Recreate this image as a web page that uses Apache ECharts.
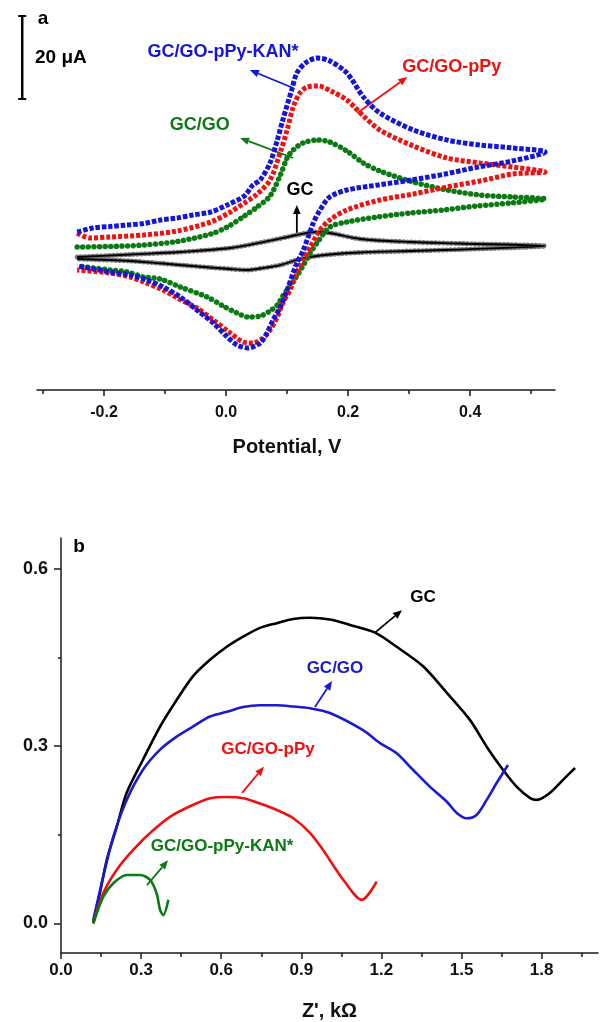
<!DOCTYPE html>
<html>
<head>
<meta charset="utf-8">
<script src="https://cdn.jsdelivr.net/npm/echarts@6.0.0/dist/echarts.min.js"></script>
<style>
  html, body { margin: 0; padding: 0; background: #fff; }
  #chart { width: 601px; height: 1022px; }
</style>
</head>
<body>
<div id="chart"></div>
<script>
// ---- panel a: cyclic voltammograms, [potential V, current uA] (forward scan then reverse) ----
const cvGC = [
  [-0.244, -7.47], [-0.157, -6.87], [-0.075, -6.27], [0.007, -5.30], [0.061, -3.86], [0.116, -2.17],
  [0.146, -1.45], [0.170, -1.69], [0.220, -3.13], [0.302, -3.86], [0.384, -4.22], [0.523, -4.82],
  [0.384, -5.66], [0.302, -6.02], [0.220, -6.39], [0.170, -6.87], [0.138, -7.47], [0.116, -8.19],
  [0.089, -9.40], [0.061, -10.12], [0.034, -10.60], [0.007, -10.36], [-0.026, -10.00], [-0.075, -9.40],
  [-0.103, -9.04], [-0.157, -8.43], [-0.244, -7.95]
];
const cvGO = [
  [-0.244, -5.06], [-0.190, -4.94], [-0.135, -4.58], [-0.080, -3.73], [-0.025, -1.93], [0.002, -0.24],
  [0.030, 2.41], [0.051, 4.58], [0.072, 7.23], [0.089, 12.29], [0.100, 16.39], [0.110, 18.31],
  [0.126, 20.00], [0.151, 20.72], [0.170, 20.24], [0.198, 18.07], [0.225, 15.18], [0.252, 13.25],
  [0.307, 10.60], [0.362, 8.67], [0.416, 7.47], [0.470, 6.99], [0.523, 6.51],
  [0.466, 5.54], [0.411, 4.82], [0.356, 3.86], [0.302, 3.13], [0.248, 2.17], [0.198, 0.96],
  [0.170, -0.24], [0.149, -4.10], [0.138, -6.51], [0.126, -9.64], [0.116, -12.05], [0.105, -14.46],
  [0.093, -16.87], [0.084, -19.04], [0.072, -20.48], [0.056, -21.69], [0.036, -21.93], [0.018, -20.96],
  [-0.005, -19.28], [-0.031, -17.11], [-0.075, -14.70], [-0.108, -12.77], [-0.135, -12.29],
  [-0.162, -11.08], [-0.190, -10.60], [-0.244, -9.64]
];
const cvPPy = [
  [-0.244, -1.69], [-0.223, -2.89], [-0.190, -2.65], [-0.135, -2.17], [-0.080, -1.20], [-0.025, 0.96],
  [0.007, 3.37], [0.030, 5.54], [0.051, 7.71], [0.072, 11.08], [0.089, 17.83], [0.100, 23.13],
  [0.110, 28.67], [0.121, 32.05], [0.133, 33.49], [0.151, 33.73], [0.175, 32.29], [0.198, 30.36],
  [0.225, 26.51], [0.252, 23.13], [0.307, 19.28], [0.362, 16.39], [0.416, 15.18], [0.470, 14.22],
  [0.523, 13.01],
  [0.470, 12.53], [0.416, 10.84], [0.362, 9.40], [0.307, 7.71], [0.252, 6.27], [0.198, 3.86],
  [0.170, 1.45], [0.154, -0.96], [0.138, -5.06], [0.126, -8.19], [0.116, -11.33], [0.105, -15.42],
  [0.093, -18.55], [0.084, -21.93], [0.072, -25.06], [0.061, -26.99], [0.044, -28.19], [0.028, -27.95],
  [0.007, -25.78], [-0.021, -22.65], [-0.048, -19.76], [-0.080, -17.35], [-0.103, -15.42],
  [-0.135, -13.49], [-0.157, -12.29], [-0.190, -11.33], [-0.244, -10.60]
];
const cvKAN = [
  [-0.244, -1.45], [-0.218, -0.48], [-0.190, -0.12], [-0.162, 0.24], [-0.135, 0.60], [-0.108, 1.45],
  [-0.080, 1.93], [-0.054, 2.65], [-0.025, 3.37], [0.002, 5.06], [0.030, 7.23], [0.044, 9.88],
  [0.056, 11.08], [0.072, 15.18], [0.084, 20.72], [0.093, 25.54], [0.108, 33.01], [0.116, 36.87],
  [0.130, 39.28], [0.149, 40.48], [0.170, 39.76], [0.198, 36.87], [0.225, 31.08], [0.252, 27.23],
  [0.307, 23.13], [0.362, 20.72], [0.416, 19.52], [0.470, 18.80], [0.523, 17.83],
  [0.469, 15.66], [0.413, 14.22], [0.359, 12.53], [0.303, 11.08], [0.249, 9.88], [0.198, 8.67],
  [0.170, 6.99], [0.154, 3.86], [0.143, 0.72], [0.126, -6.02], [0.116, -8.92], [0.100, -15.42],
  [0.089, -19.52], [0.077, -22.65], [0.067, -25.78], [0.056, -28.19], [0.036, -29.40], [0.018, -28.67],
  [0.002, -26.75], [-0.021, -23.37], [-0.048, -20.24], [-0.075, -17.11], [-0.103, -14.70],
  [-0.130, -13.01], [-0.157, -11.81], [-0.190, -11.08], [-0.244, -9.64]
];

// ---- panel b: Nyquist plots, [Z' kOhm, -Z'' kOhm] ----
const eisGC = [
  [0.121, 0.003], [0.146, 0.052], [0.171, 0.107], [0.209, 0.164], [0.246, 0.221], [0.307, 0.277],
  [0.371, 0.333], [0.433, 0.378], [0.494, 0.418], [0.558, 0.446], [0.621, 0.468], [0.682, 0.485],
  [0.745, 0.500], [0.808, 0.508], [0.869, 0.515], [0.933, 0.517], [1.007, 0.514], [1.082, 0.505],
  [1.176, 0.492], [1.257, 0.468], [1.356, 0.435], [1.445, 0.390], [1.532, 0.344], [1.594, 0.299],
  [1.655, 0.260], [1.707, 0.231], [1.757, 0.212], [1.782, 0.209], [1.831, 0.221], [1.880, 0.243],
  [1.925, 0.263]
];
const eisGO = [
  [0.121, 0.006], [0.158, 0.079], [0.196, 0.147], [0.246, 0.209], [0.307, 0.260], [0.371, 0.294],
  [0.433, 0.316], [0.494, 0.333], [0.558, 0.350], [0.621, 0.358], [0.682, 0.366], [0.745, 0.369],
  [0.808, 0.369], [0.869, 0.367], [0.933, 0.364], [1.007, 0.356], [1.131, 0.327], [1.195, 0.305],
  [1.257, 0.288], [1.318, 0.260], [1.382, 0.231], [1.445, 0.206], [1.482, 0.187], [1.519, 0.178],
  [1.557, 0.184], [1.594, 0.209], [1.632, 0.238], [1.674, 0.268]
];
const eisPPy = [
  [0.121, 0.000], [0.158, 0.051], [0.209, 0.091], [0.271, 0.125], [0.346, 0.158], [0.421, 0.184],
  [0.496, 0.201], [0.558, 0.212], [0.621, 0.214], [0.683, 0.212], [0.745, 0.203], [0.808, 0.192],
  [0.870, 0.178], [0.933, 0.153], [0.982, 0.124], [1.007, 0.107], [1.057, 0.074], [1.126, 0.040],
  [1.182, 0.071]
];
const eisKAN = [
  [0.121, 0.000], [0.158, 0.045], [0.196, 0.068], [0.246, 0.082], [0.296, 0.082], [0.333, 0.074],
  [0.358, 0.051], [0.371, 0.023], [0.383, 0.014], [0.402, 0.040]
];

// tick values
const cvLabels = [-0.2, 0, 0.2, 0.4];
const cvMinor = [-0.3, -0.1, 0.1, 0.3, 0.5];
const zLabels = [0, 0.3, 0.6, 0.9, 1.2, 1.5, 1.8];
const zMinor = [0.15, 0.45, 0.75, 1.05, 1.35, 1.65, 1.95];
const zImLabels = [0, 0.3, 0.6];
const zImMinor = [0.15, 0.45];

// annotations: [text, colour, label pos, arrow from, arrow to]
const notesA = [
  ["GC/GO-pPy-KAN*", "#1515d8", [-0.005, 41.9], [0.110, 33.25], [0.039, 37.59]],
  ["GC/GO", "#0b7a12", [-0.043, 24.3], [0.110, 16.39], [0.023, 21.20]],
  ["GC/GO-pPy", "#f01010", [0.370, 38.3], [0.215, 27.23], [0.297, 35.90]],
  ["GC", "#000", [0.121, 8.7], [0.116, -1.69], [0.116, 5.06]]
];
const notesB = [
  ["GC", "#000", [1.356, 0.552], [1.176, 0.492], [1.277, 0.530]],
  ["GC/GO", "#1a1ad0", [1.026, 0.432], [0.951, 0.366], [1.015, 0.410]],
  ["GC/GO-pPy", "#f01010", [0.775, 0.295], [0.678, 0.221], [0.760, 0.265]],
  ["GC/GO-pPy-KAN*", "#0b7a12", [0.603, 0.131], [0.322, 0.065], [0.401, 0.107]]
];
const scaleBar = { v: -0.334, from: 30.6, to: 50.6, text: "20 \u03bcA" };

const FONT = '"Liberation Sans", Arial, sans-serif';
const AX = "#1a1a1a";

const chart = echarts.init(document.getElementById("chart"), null, { renderer: "canvas" });

function labelStyle(size) {
    return { fontFamily: FONT, fontWeight: "bold", fontSize: size, color: "#111" };
}
function fmt(v) { return v.toFixed(1); }

chart.setOption({
    animation: false,
    backgroundColor: "#fff",
    grid: [
        { left: 37, right: 46, top: 40, bottom: 632 },
        { left: 61, right: 3, top: 538, bottom: 69 }
    ],
    xAxis: [
        {
            gridIndex: 0, type: "value", min: -0.3098, max: 0.539, position: "bottom",
            axisLine: { show: true, onZero: false, lineStyle: { color: AX, width: 1.5 } },
            axisTick: { show: true, customValues: cvLabels, length: 6, lineStyle: { color: AX, width: 1.5 } },
            axisLabel: Object.assign({ customValues: cvLabels, formatter: fmt, margin: 15 }, labelStyle(16)),
            splitLine: { show: false },
            name: "Potential, V", nameLocation: "middle", nameGap: 47,
            nameTextStyle: Object.assign({ padding: [0, 18, 0, 0] }, labelStyle(20))
        },
        {
            gridIndex: 0, type: "value", min: -0.3098, max: 0.539, position: "bottom", offset: 0,
            axisLine: { show: false, onZero: false },
            axisTick: { show: true, customValues: cvMinor, length: 4, lineStyle: { color: AX, width: 1.5 } },
            axisLabel: { show: false }, splitLine: { show: false }
        },
        {
            gridIndex: 1, type: "value", min: 0, max: 2.011, position: "bottom",
            axisLine: { show: true, onZero: false, lineStyle: { color: AX, width: 1.5 } },
            axisTick: { show: true, customValues: zLabels, length: 6, lineStyle: { color: AX, width: 1.5 } },
            axisLabel: Object.assign({ customValues: zLabels, formatter: fmt, margin: 9 }, labelStyle(17)),
            splitLine: { show: false },
            name: "Z', k\u03a9", nameLocation: "middle", nameGap: 48,
            nameTextStyle: labelStyle(20)
        },
        {
            gridIndex: 1, type: "value", min: 0, max: 2.011, position: "bottom", offset: 0,
            axisLine: { show: false, onZero: false },
            axisTick: { show: true, customValues: zMinor, length: 4, lineStyle: { color: AX, width: 1.5 } },
            axisLabel: { show: false }, splitLine: { show: false }
        }
    ],
    yAxis: [
        { gridIndex: 0, type: "value", min: -39.52, max: 44.82, show: false },
        {
            gridIndex: 1, type: "value", min: -0.0499, max: 0.652, position: "left",
            axisLine: { show: true, onZero: false, lineStyle: { color: AX, width: 1.5 } },
            axisTick: { show: true, customValues: zImLabels, length: 7, lineStyle: { color: AX, width: 1.5 } },
            axisLabel: Object.assign({ customValues: zImLabels, formatter: fmt, margin: 13 }, labelStyle(18)),
            splitLine: { show: false }
        },
        {
            gridIndex: 1, type: "value", min: -0.0499, max: 0.652, position: "left", offset: 0,
            axisLine: { show: false, onZero: false },
            axisTick: { show: true, customValues: zImMinor, length: 3, lineStyle: { color: AX, width: 1.5 } },
            axisLabel: { show: false }, splitLine: { show: false }
        }
    ],
    series: [
        // panel a
        { name: "GC", type: "line", xAxisIndex: 0, yAxisIndex: 0, data: cvGC, smooth: 0.3, showSymbol: false, silent: true,
          lineStyle: { color: "#7a7a7a", width: 5, type: [0.01, 4], cap: "round" } },
        { name: "GC line", type: "line", xAxisIndex: 0, yAxisIndex: 0, data: cvGC, smooth: 0.3, showSymbol: false, silent: true,
          lineStyle: { color: "#000", width: 1.8 } },
        { name: "GC/GO", type: "line", xAxisIndex: 0, yAxisIndex: 0, data: cvGO, smooth: 0.3, showSymbol: false, silent: true,
          lineStyle: { color: "#0b7a12", width: 5.5, type: [0.01, 5.6], cap: "round" } },
        { name: "GC/GO-pPy", type: "line", xAxisIndex: 0, yAxisIndex: 0, data: cvPPy, smooth: 0.3, showSymbol: false, silent: true,
          lineStyle: { color: "#f01010", width: 5, type: [4, 2], cap: "butt" } },
        { name: "GC/GO-pPy-KAN*", type: "line", xAxisIndex: 0, yAxisIndex: 0, data: cvKAN, smooth: 0.3, showSymbol: false, silent: true,
          lineStyle: { color: "#1515d8", width: 5, type: [4.5, 1.8], cap: "butt" } },
        // panel b
        { name: "GC b", type: "line", xAxisIndex: 2, yAxisIndex: 1, data: eisGC, smooth: 0.3, showSymbol: false, silent: true,
          lineStyle: { color: "#000", width: 2.6 } },
        { name: "GC/GO b", type: "line", xAxisIndex: 2, yAxisIndex: 1, data: eisGO, smooth: 0.3, showSymbol: false, silent: true,
          lineStyle: { color: "#1a1ad0", width: 2.6 } },
        { name: "GC/GO-pPy b", type: "line", xAxisIndex: 2, yAxisIndex: 1, data: eisPPy, smooth: 0.3, showSymbol: false, silent: true,
          lineStyle: { color: "#f01010", width: 2.6 } },
        { name: "GC/GO-pPy-KAN* b", type: "line", xAxisIndex: 2, yAxisIndex: 1, data: eisKAN, smooth: 0.3, showSymbol: false, silent: true,
          lineStyle: { color: "#0b7a12", width: 2.6 } }
    ]
});

// annotations placed through the axes' own scales
function toPx(grid, p) {
    const f = grid === 0 ? { xAxisIndex: 0, yAxisIndex: 0 } : { xAxisIndex: 2, yAxisIndex: 1 };
    return chart.convertToPixel(f, p);
}

function arrow(a, b, color, width, head) {
    const dx = b[0] - a[0], dy = b[1] - a[1];
    const len = Math.sqrt(dx * dx + dy * dy);
    const ux = dx / len, uy = dy / len;
    const bx = b[0] - ux * head, by = b[1] - uy * head;
    const hw = head * 0.42;
    return [
        { type: "line", silent: true, shape: { x1: a[0], y1: a[1], x2: bx, y2: by }, style: { stroke: color, lineWidth: width } },
        { type: "polygon", silent: true, shape: { points: [[b[0], b[1]], [bx - uy * hw, by + ux * hw], [bx + uy * hw, by - ux * hw]] }, style: { fill: color } }
    ];
}

function text(str, pos, color, size, align) {
    return { type: "text", silent: true, x: pos[0], y: pos[1],
             style: { text: str, fill: color, font: "bold " + size + "px " + FONT, align: align || "center", verticalAlign: "middle" } };
}

const graphics = [];
notesA.forEach(function (n) {
    graphics.push(text(n[0], toPx(0, n[2]), n[1], 18));
    arrow(toPx(0, n[3]), toPx(0, n[4]), n[1], 1.8, 9).forEach(g => graphics.push(g));
});
notesB.forEach(function (n) {
    graphics.push(text(n[0], toPx(1, n[2]), n[1], 17));
    arrow(toPx(1, n[3]), toPx(1, n[4]), n[1], 1.8, 9).forEach(g => graphics.push(g));
});

// 20 uA scale bar on panel a
const sb0 = toPx(0, [scaleBar.v, scaleBar.from]);
const sb1 = toPx(0, [scaleBar.v, scaleBar.to]);
graphics.push({ type: "line", silent: true, shape: { x1: sb0[0], y1: sb0[1], x2: sb1[0], y2: sb1[1] }, style: { stroke: "#000", lineWidth: 2.5 } });
graphics.push({ type: "line", silent: true, shape: { x1: sb0[0] - 4, y1: sb0[1], x2: sb0[0] + 4, y2: sb0[1] }, style: { stroke: "#000", lineWidth: 2 } });
graphics.push({ type: "line", silent: true, shape: { x1: sb1[0] - 4, y1: sb1[1], x2: sb1[0] + 4, y2: sb1[1] }, style: { stroke: "#000", lineWidth: 2 } });
graphics.push(text(scaleBar.text, [35, (sb0[1] + sb1[1]) / 2], "#000", 19, "left"));

// panel letters
graphics.push(text("a", [43, 19], "#000", 19));
graphics.push(text("b", [79, 547], "#000", 19));

chart.setOption({ graphic: graphics });
</script>
</body>
</html>
